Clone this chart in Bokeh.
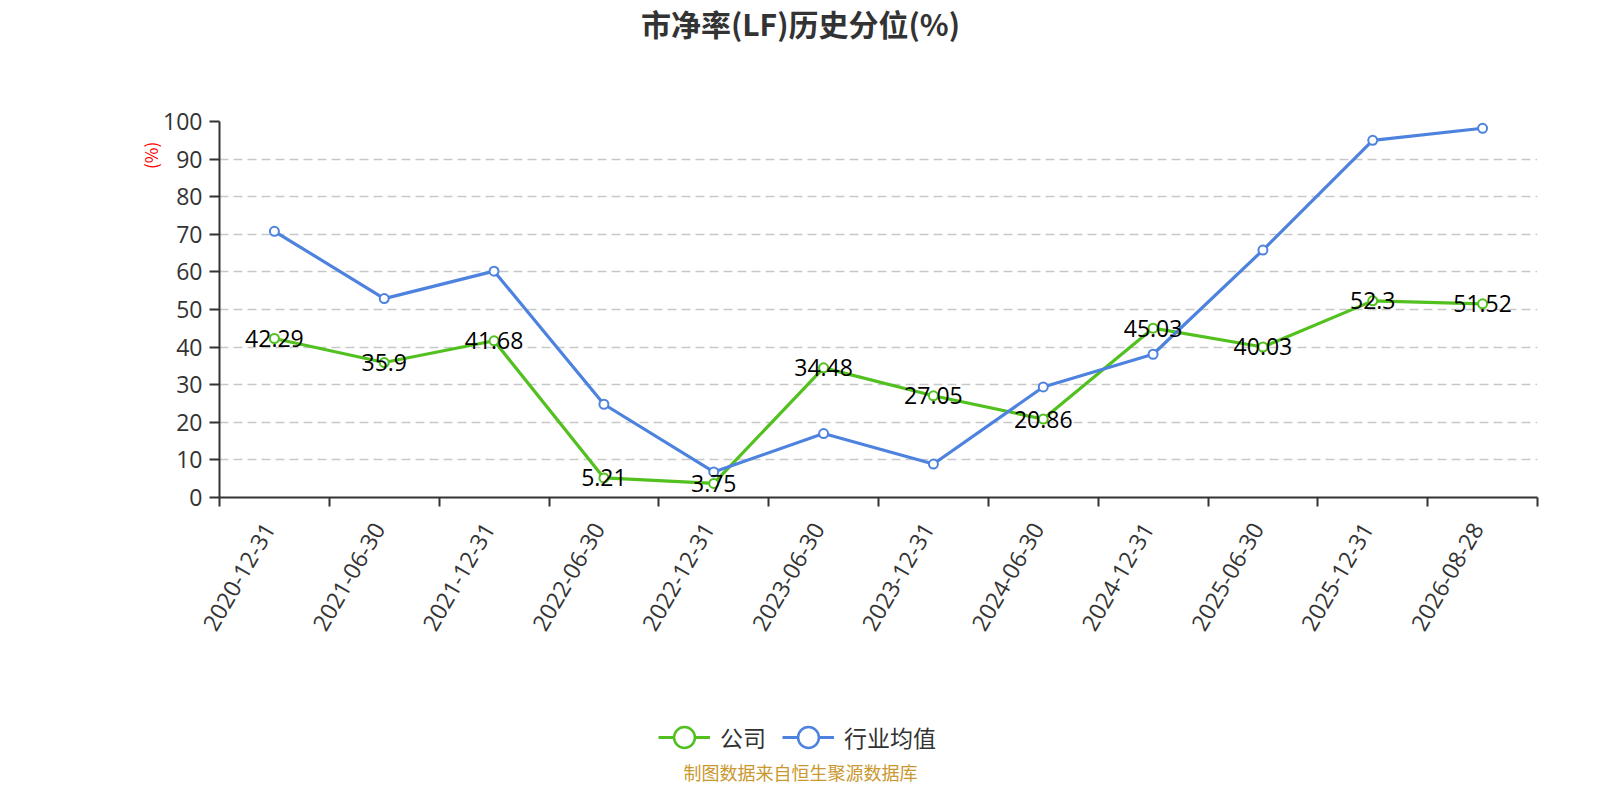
import math
from bokeh.plotting import figure
from bokeh.layouts import column
from bokeh.models import (Range1d, FixedTicker, CustomJSTickFormatter, Label, Legend,
                          LegendItem, ColumnDataSource, LinearAxis)
from bokeh.embed import file_html
from bokeh.resources import INLINE
from bokeh.core.properties import value

# ---- data ----
dates = ["2020-12-31", "2021-06-30", "2021-12-31", "2022-06-30", "2022-12-31", "2023-06-30",
         "2023-12-31", "2024-06-30", "2024-12-31", "2025-06-30", "2025-12-31", "2026-08-28"]
company = [42.29, 35.9, 41.68, 5.21, 3.75, 34.48, 27.05, 20.86, 45.03, 40.03, 52.3, 51.52]
industry = [70.8, 52.9, 60.2, 24.8, 6.8, 17.0, 8.9, 29.4, 38.1, 65.8, 95.0, 98.2]
y_ticks = [0, 10, 20, 30, 40, 50, 60, 70, 80, 90, 100]
series_names = ["公司", "行业均值"]
title_text = "市净率(LF)历史分位(%)"
y_unit = "(%)"
y_unit_at = 91
footer_text = "制图数据来自恒生聚源数据库"

GREEN = "#52c11f"
BLUE = "#4e82df"
CJK = "Noto Sans CJK SC"
LAT = "'Open Sans', 'Noto Sans CJK SC'"
DARK = "#333333"

W = 1584
FRAME_L, FRAME_R = 219, 1537          # frame edges (all strips share them)
TOP_H, MAIN_H, BOT_H = 90, 591, 103
FL, FR, FT, FB = FRAME_L, W - FRAME_R, 31, 184


def blank_fig(h, y0, y1):
    f = figure(width=W, height=h, output_backend="svg", toolbar_location=None,
               x_range=Range1d(FRAME_L, FRAME_R), y_range=Range1d(y1, y0),
               x_axis_location=None, y_axis_location=None,
               min_border_left=FL, min_border_right=FR,
               min_border_top=0, min_border_bottom=0)
    f.outline_line_color = None
    f.grid.visible = False
    return f


# ---- title strip ----
top = blank_fig(TOP_H, 0, TOP_H)
top.add_layout(Label(x=800, y=22, text=title_text, text_align="center",
                     text_baseline="middle", text_font=CJK, text_font_size="30px",
                     text_font_style="bold", text_color=DARK))

# ---- main chart ----
p = figure(width=W, height=MAIN_H, output_backend="svg", toolbar_location=None,
           x_range=Range1d(0, len(dates)), y_range=Range1d(y_ticks[0], y_ticks[-1]),
           min_border_left=FL, min_border_right=FR, min_border_top=FT, min_border_bottom=FB)
p.outline_line_color = None

xa = p.xaxis[0]
# rotated labels end just left of each category centre; ticks on category boundaries
xa.ticker = FixedTicker(ticks=[i + 0.45 for i in range(len(dates))],
                        minor_ticks=list(range(len(dates) + 1)))
xa.formatter = CustomJSTickFormatter(args=dict(labels=dates),
                                     code="return labels[Math.floor(tick)];")
xa.major_tick_out = 0
xa.major_tick_in = 0
xa.minor_tick_in = 0
xa.minor_tick_out = 9
xa.minor_tick_line_color = DARK
xa.minor_tick_line_width = 2
xa.axis_line_color = DARK
xa.axis_line_width = 2
xa.major_label_orientation = math.pi / 3
xa.major_label_standoff = 18
xa.major_label_text_font = LAT
xa.major_label_text_font_size = "23px"
xa.major_label_text_color = DARK

ya = p.yaxis[0]
ya.ticker = FixedTicker(ticks=y_ticks)
ya.major_tick_in = 0
ya.major_tick_out = 10
ya.major_tick_line_color = DARK
ya.major_tick_line_width = 2
ya.minor_tick_out = 0
ya.minor_tick_in = 0
ya.axis_line_color = DARK
ya.axis_line_width = 2
ya.major_label_standoff = 7
ya.major_label_text_font = LAT
ya.major_label_text_font_size = "23px"
ya.major_label_text_color = DARK

unit_axis = LinearAxis(ticker=FixedTicker(ticks=[y_unit_at]),
                       formatter=CustomJSTickFormatter(args=dict(u=y_unit), code="return u;"),
                       axis_line_color=None, major_tick_line_color=None,
                       minor_tick_line_color=None, major_tick_out=0, major_tick_in=0,
                       major_label_standoff=-3, major_label_orientation="vertical",
                       major_label_text_font=CJK, major_label_text_font_size="17px",
                       major_label_text_color="red")
p.add_layout(unit_axis, "left")

p.xgrid.visible = False
p.ygrid.grid_line_color = "#c8c8c8"
p.ygrid.grid_line_width = 1.5
p.ygrid.grid_line_dash = "9 5"

xs = [i + 0.5 for i in range(len(dates))]
src = ColumnDataSource(dict(x=xs, company=company, industry=industry,
                            clabel=[f"{v:g}" for v in company]))

p.line("x", "company", source=src, line_color=GREEN, line_width=3.2)
p.scatter("x", "company", source=src, size=9, line_color=GREEN,
          fill_color="white", line_width=2)
p.line("x", "industry", source=src, line_color=BLUE, line_width=3.2)
p.scatter("x", "industry", source=src, size=9, line_color=BLUE,
          fill_color="white", line_width=2)

p.text("x", "company", text="clabel", source=src, text_align="center",
       text_baseline="middle", text_font=value(LAT), text_font_size="23px",
       text_color="black")

# ---- legend + footer strip ----
y0 = TOP_H + MAIN_H
bot = blank_fig(BOT_H, y0, y0 + BOT_H)
# legend glyphs: same series, lying outside this strip's ranges (not visible here)
lg_g_line = bot.line("x", "company", source=src, line_color=GREEN, line_width=3)
lg_g_pt = bot.scatter("x", "company", source=src, line_color=GREEN, fill_color="white",
                      line_width=2.5)
lg_b_line = bot.line("x", "industry", source=src, line_color=BLUE, line_width=3)
lg_b_pt = bot.scatter("x", "industry", source=src, line_color=BLUE, fill_color="white",
                      line_width=2.5)
legend = Legend(items=[LegendItem(label=series_names[0], renderers=[lg_g_line, lg_g_pt]),
                       LegendItem(label=series_names[1], renderers=[lg_b_line, lg_b_pt])],
                orientation="horizontal", location=(658 - FRAME_L, 21), padding=0, margin=0,
                spacing=16, label_standoff=10, glyph_width=52, glyph_height=52,
                label_text_font=CJK, label_text_font_size="23px",
                label_text_color=DARK, border_line_alpha=0, background_fill_alpha=0)
bot.add_layout(legend, "center")
bot.add_layout(Label(x=800, y=771, text=footer_text, text_align="center",
                     text_baseline="middle", text_font=CJK, text_font_size="18px",
                     text_color="#c9982e"))

layout = column(top, p, bot, spacing=0)
open("out.html", "w").write(file_html(layout, INLINE))
